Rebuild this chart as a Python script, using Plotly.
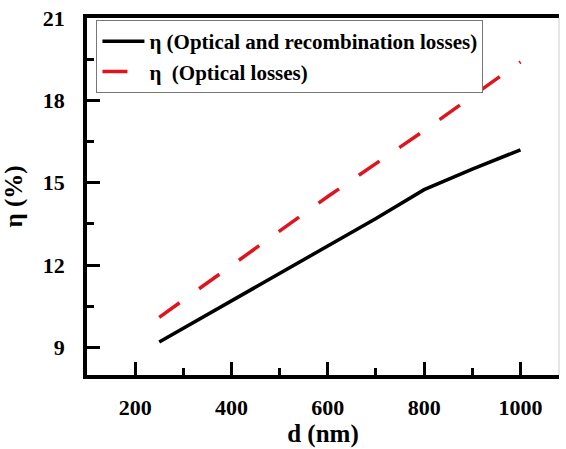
import plotly.graph_objects as go

# Data
d_nm = [250, 300, 400, 500, 600, 700, 800, 900, 1000]
eta_opt_rec = [9.2, 9.7, 10.7, 11.7, 12.7, 13.7, 14.75, 15.5, 16.2]
d_nm_opt = [250, 400, 600, 800, 1000]
eta_opt = [10.1, 12.0, 14.5, 16.9, 19.4]

x_ticks = [200, 400, 600, 800, 1000]
y_ticks = [9, 12, 15, 18, 21]

name_rec = "η (Optical and recombination losses)"
name_opt = "η  (Optical losses)"

FONT = "Liberation Serif"


def b(s):
    return "<b>" + str(s) + "</b>"


fig = go.Figure()
fig.add_trace(go.Scatter(x=d_nm, y=eta_opt_rec, mode="lines", name=b(name_rec),
                         line=dict(color="black", width=3.5)))
fig.add_trace(go.Scatter(x=d_nm_opt, y=eta_opt, mode="lines",
                         name=b(name_opt.replace("  ", "&nbsp; ")),
                         line=dict(color="#e0141e", width=3.5, dash="25px,24px")))

fig.update_layout(
    width=566, height=449,
    margin=dict(l=87, r=7, t=18, b=74),
    plot_bgcolor="white", paper_bgcolor="white",
    font=dict(family=FONT, color="black"),
    showlegend=True,
    legend=dict(x=0.02, y=0.994, xanchor="left", yanchor="top",
                bgcolor="white", bordercolor="#777777", borderwidth=1,
                font=dict(family=FONT, size=21, color="black"),
                tracegroupgap=0, itemwidth=42),
)

fig.update_xaxes(
    range=[100, 1080], tickvals=x_ticks, ticktext=[b(v) for v in x_ticks],
    ticks="inside", ticklen=13, tickwidth=3, tickcolor="black",
    minor=dict(ticks="inside", ticklen=7, tickwidth=3, tickcolor="black",
               tickvals=[300, 500, 700, 900]),
    showline=True, linewidth=3.5, linecolor="black", mirror=True,
    showgrid=False, zeroline=False,
    tickfont=dict(family=FONT, size=22, color="black"),
    ticklabelstandoff=10,
    title=dict(text=b("d (nm)"), font=dict(family=FONT, size=25, color="black"),
               standoff=2),
)
fig.update_yaxes(
    range=[8, 21], tickvals=y_ticks, ticktext=[b(v) for v in y_ticks],
    ticks="inside", ticklen=13, tickwidth=3, tickcolor="black",
    minor=dict(ticks="inside", ticklen=7, tickwidth=3, tickcolor="black",
               tickvals=[10.5, 13.5, 16.5, 19.5]),
    showline=True, linewidth=3.5, linecolor="black", mirror=False,
    showgrid=False, zeroline=False,
    tickfont=dict(family=FONT, size=22, color="black"),
    ticklabelstandoff=14,
    title=dict(text=b("η (%)"), font=dict(family=FONT, size=25, color="black"),
               standoff=14),
)

# thin right frame edge
fig.add_shape(type="line", xref="paper", yref="paper", x0=1, x1=1, y0=0, y1=1,
              line=dict(color="#cccccc", width=1))

fig.write_html("out.html")
